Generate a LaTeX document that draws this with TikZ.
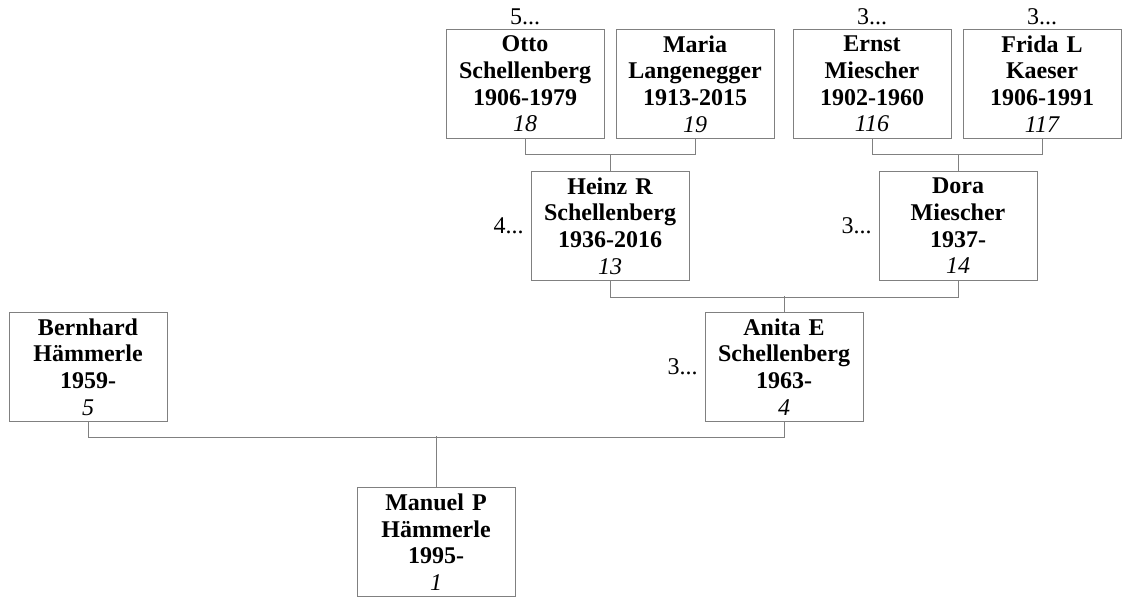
\documentclass[tikz,border=0pt]{standalone}
\usepackage{fontspec}
\setmainfont{Liberation Serif}
\usepackage{tikz}
\usepackage{color}
\usetikzlibrary{positioning}
\definecolor{boxgray}{RGB}{128,128,128}

\begin{document}
\begin{tikzpicture}[x=0.75pt,y=-0.75pt]
            \tikzstyle{every node}+=[inner sep=0pt]
            \tikzstyle{person}=[draw=boxgray,line width=0.75pt,fill=white,text width=118.5pt,
                minimum height=82pt,align=center,font=\fontsize{18}{20}\selectfont\bfseries]
            \tikzstyle{more}=[font=\fontsize{18}{20}\selectfont]
            \tikzstyle{link}=[draw=boxgray,line width=0.75pt]
            \useasboundingbox (0,0) rectangle (1126,599);
            \node [person] (otto) at (525,84) {Otto\\Schellenberg\\1906-1979\\{\mdseries\itshape 18}};
            \node [person] (maria) at (695,84) {Maria\\Langenegger\\1913-2015\\{\mdseries\itshape 19}};
            \node [person] (ernst) at (872,84) {Ernst\\Miescher\\1902-1960\\{\mdseries\itshape 116}};
            \node [person] (frida) at (1042,84) {Frida L\\Kaeser\\1906-1991\\{\mdseries\itshape 117}};
            \node [person] (heinz) at (610,226) {Heinz R\\Schellenberg\\1936-2016\\{\mdseries\itshape 13}};
            \node [person] (dora) at (958,226) {Dora\\Miescher\\1937-\\{\mdseries\itshape 14}};
            \node [person] (anita) at (784,367) {Anita E\\Schellenberg\\1963-\\{\mdseries\itshape 4}};
            \node [person] (bernhard) at (88,367) {Bernhard\\Hämmerle\\1959-\\{\mdseries\itshape 5}};
            \node [person] (manuel) at (436,542) {Manuel P\\Hämmerle\\1995-\\{\mdseries\itshape 1}};
            \node [more,above=3pt of otto] (ottomore) {5...};
            \node [more,above=3pt of ernst] (ernstmore) {3...};
            \node [more,above=3pt of frida] (fridamore) {3...};
            \node [more,left=5pt of heinz] (heinzmore) {4...};
            \node [more,left=5pt of dora] (doramore) {3...};
            \node [more,left=5pt of anita] (anitamore) {3...};
            \draw [link] (otto.south) -- ++(0,15) -| (maria.south);
            \draw [link] (heinz.north) -- ++(0,-17);
            \draw [link] (ernst.south) -- ++(0,15) -| (frida.south);
            \draw [link] (dora.north) -- ++(0,-17);
            \draw [link] (heinz.south) -- ++(0,16) -| (dora.south);
            \draw [link] (anita.north) -- ++(0,-16);
            \draw [link] (bernhard.south) -- ++(0,15) -| (anita.south);
            \draw [link] (manuel.north) -- ++(0,-51);
            \end{tikzpicture}
\end{document}
